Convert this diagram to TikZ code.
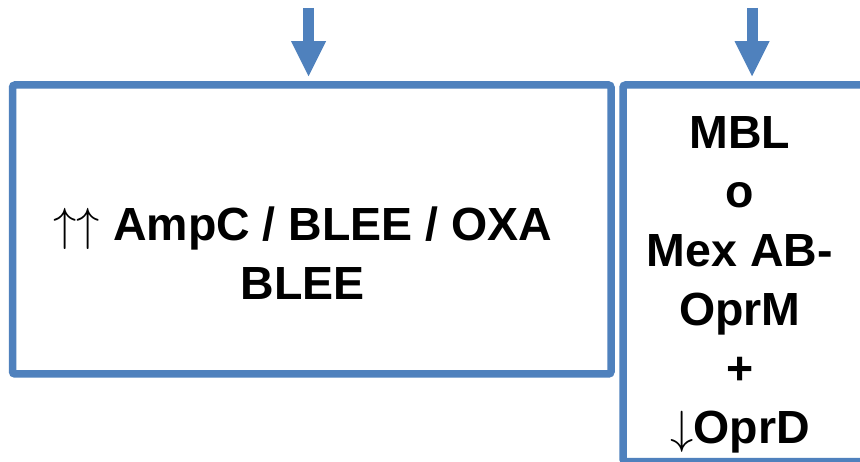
\RequirePackage{fix-cm}
\documentclass[tikz,border=0pt]{standalone}
\usepackage{fontspec}
\setmainfont{Liberation Sans}
\usepackage{xcolor}
\usetikzlibrary{arrows.meta}
\definecolor{panelblue}{HTML}{4F81BD}

\begin{document}
\begin{tikzpicture}[
  x=1pt,y=-1pt,
  panel/.style={draw=panelblue,line width=7.5pt,rounded corners=2.5pt,
    fill=white,inner sep=0pt},
  verdict/.style={align=center,inner sep=0pt,
    font=\fontsize{46.5}{59}\selectfont\bfseries},
  feed/.style={draw=panelblue,line width=11pt,
    -{Triangle[width=35pt,length=35pt,line width=0pt]}}
]
\useasboundingbox (0,0) rectangle (860,462);
\clip (0,0) rectangle (860,462);
\node[panel,minimum width=598.5pt,minimum height=289pt] (mixed) at (311.75,229.5) {};
\node[panel,minimum width=241pt,minimum height=376.5pt] (combo) at (743.5,273.25) {};
\node[verdict] (mixedtxt) at (303,253.5)
  {$\uparrow\uparrow$ AmpC / BLEE / OXA\\BLEE};
\node[verdict] (combotxt) at (740,285)
  {MBL\\o\\Mex AB-\\OprM\\+\\$\downarrow$OprD};
\coordinate (srcL) at (308.5,8);
\coordinate (srcR) at (752,8);
\draw[feed,shorten >=5pt] (srcL) -- (srcL |- mixed.north);
\draw[feed,shorten >=5pt] (srcR) -- (srcR |- combo.north);
\end{tikzpicture}
\end{document}
